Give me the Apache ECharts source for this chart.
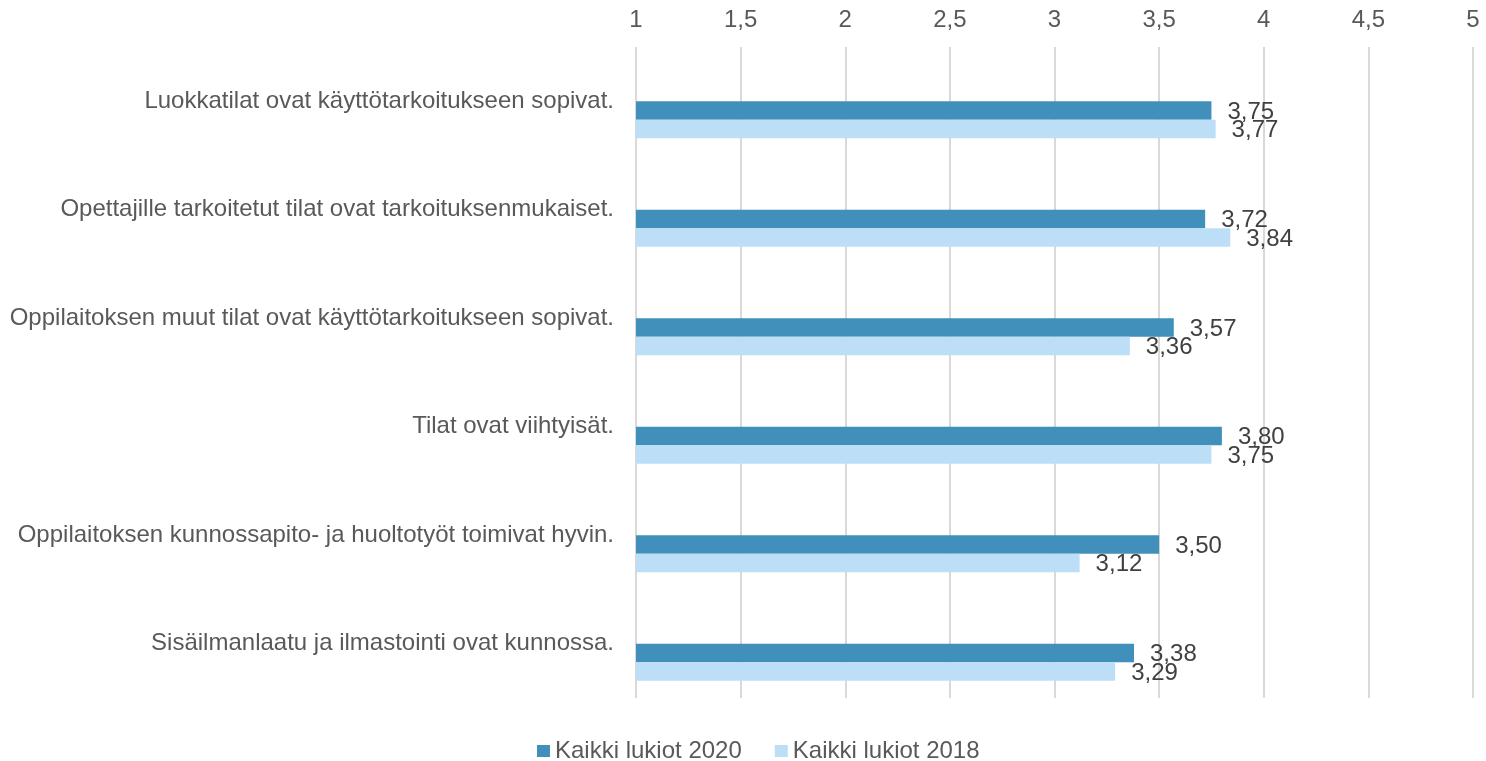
<!DOCTYPE html>
<html>
<head>
<meta charset="utf-8">
<script src="https://cdn.jsdelivr.net/npm/echarts@6/dist/echarts.min.js"></script>
<style>
  html, body { margin: 0; padding: 0; background: #fff; }
  #chart { width: 1486px; height: 761px; }
</style>
</head>
<body>
<div id="chart"></div>
<script>
// Survey statements (top to bottom) and mean scores on a 1–5 scale
const categories = [
  'Luokkatilat ovat käyttötarkoitukseen sopivat.',
  'Opettajille tarkoitetut tilat ovat tarkoituksenmukaiset.',
  'Oppilaitoksen muut tilat ovat käyttötarkoitukseen sopivat.',
  'Tilat ovat viihtyisät.',
  'Oppilaitoksen kunnossapito- ja huoltotyöt toimivat hyvin.',
  'Sisäilmanlaatu ja ilmastointi ovat kunnossa.'
];
const seriesNames = ['Kaikki lukiot 2020', 'Kaikki lukiot 2018'];
const values2020 = [3.75, 3.72, 3.57, 3.80, 3.50, 3.38];
const values2018 = [3.77, 3.84, 3.36, 3.75, 3.12, 3.29];
const axisMin = 1, axisMax = 5, axisStep = 0.5;

const FONT = '"Liberation Sans", Arial, sans-serif';
const comma = v => String(v).replace('.', ',');

// Empty slots keep the two visible bars in the lower half of each band
const spacer = name => ({
  name, type: 'bar', data: categories.map(() => '-'),
  barWidth: 18.5, barGap: '0%', silent: true
});

const valueLabel = {
  show: true, position: 'right', distance: 16, offset: [0, 1.5],
  color: '#404040', fontFamily: FONT, fontSize: 24,
  formatter: p => p.value.toFixed(2).replace('.', ',')
};

const chart = echarts.init(document.getElementById('chart'));
chart.setOption({
  animation: false,
  grid: { left: 636, right: 13, top: 47, bottom: 63, containLabel: false },
  legend: {
    data: seriesNames,
    top: 734, left: 532,
    itemWidth: 13, itemHeight: 12, itemGap: 33,
    icon: 'rect',
    textStyle: { color: '#595959', fontFamily: FONT, fontSize: 24 }
  },
  xAxis: {
    type: 'value', position: 'top',
    min: axisMin, max: axisMax, interval: axisStep,
    axisLine: { show: false }, axisTick: { show: false },
    splitLine: { show: true, lineStyle: { color: '#d9d9d9', width: 2 } },
    axisLabel: { color: '#595959', fontFamily: FONT, fontSize: 24, margin: 15, formatter: comma }
  },
  yAxis: {
    type: 'category', inverse: true, data: categories,
    axisLine: { show: false }, axisTick: { show: false },
    axisLabel: { color: '#595959', fontFamily: FONT, fontSize: 24, margin: 22 }
  },
  series: [
    spacer('_a'),
    spacer('_b'),
    {
      name: seriesNames[0], type: 'bar', data: values2020,
      barWidth: 18.5, barGap: '0%',
      itemStyle: { color: '#418fbb' },
      label: valueLabel
    },
    {
      name: seriesNames[1], type: 'bar', data: values2018,
      barWidth: 18.5, barGap: '0%',
      itemStyle: { color: '#bddef7' },
      label: valueLabel
    }
  ]
});
</script>
</body>
</html>
